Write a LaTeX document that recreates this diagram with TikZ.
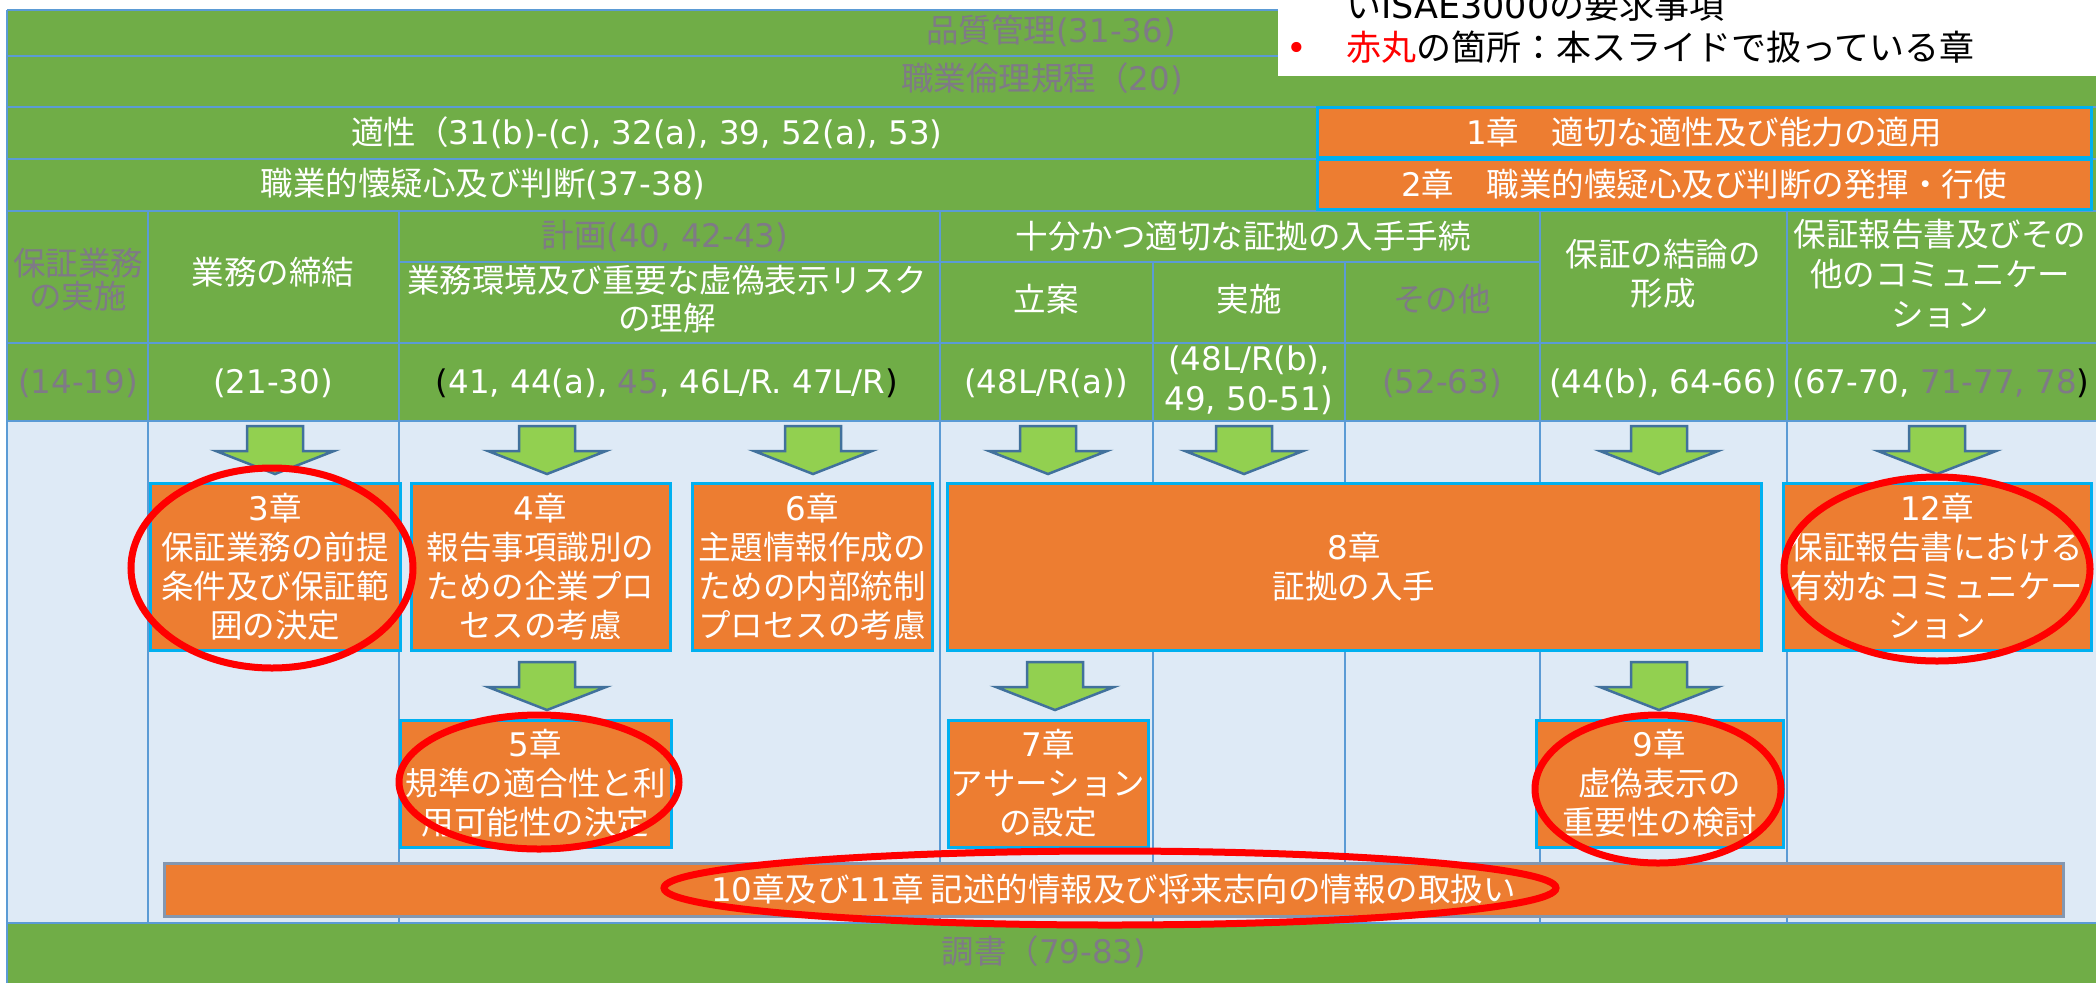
\documentclass[tikz,border=0pt]{standalone}
\usepackage{fontspec}
\setmainfont{Noto Sans CJK JP}
\newfontfamily\cjkfont{Noto Sans CJK JP}
\newfontfamily\latfont{DejaVu Sans}
\XeTeXinterchartokenstate=1
\newXeTeXintercharclass\cjkcls
\newcount\cccnt
\newcommand\setcjkrange[2]{\cccnt=#1\relax\loop\XeTeXcharclass\cccnt=\cjkcls\relax\ifnum\cccnt<#2 \advance\cccnt by 1 \repeat}
\setcjkrange{"3000}{"30FF}
\setcjkrange{"4E00}{"9FFF}
\setcjkrange{"FF00}{"FFEF}
\XeTeXinterchartoks 0 \cjkcls = {\cjkfont}
\XeTeXinterchartoks 4095 \cjkcls = {\cjkfont}
\XeTeXinterchartoks \cjkcls 0 = {\latfont}
\XeTeXinterchartoks 4095 0 = {\latfont}
\definecolor{grn}{HTML}{70AD47}
\definecolor{org}{HTML}{ED7D31}
\definecolor{lbl}{HTML}{DEEAF6}
\definecolor{gridc}{HTML}{5B9BD5}
\definecolor{gtxt}{HTML}{7F7A86}
\definecolor{arrfill}{HTML}{92D050}
\definecolor{arredge}{HTML}{41719C}
\definecolor{cyanb}{HTML}{00B0F0}
\definecolor{barb}{HTML}{8497B0}
\newcommand\myfs{\fontsize{32.5}{39}\selectfont}
\begin{document}
\begin{tikzpicture}[x=1pt,y=-1pt,
  gridline/.style={draw=gridc, line width=2pt},
  txt/.style={text=white, align=center, inner sep=0pt, font=\myfs},
  gtx/.style={txt, text=gtxt},
  chap/.style={draw=cyanb, fill=org, line width=3pt, text=white, align=center, inner sep=0pt, font=\myfs},
  barbox/.style={draw=barb, fill=org, line width=3pt, text=white, inner sep=0pt, font=\myfs},
  ring/.style={draw=red, line width=7pt},
  barrow/.style={fill=arrfill, draw=arredge, line width=2.5pt, line join=miter},
  blockarr/.pic={\path[barrow] (-28,0) -- (28,0) -- (28,25) -- (59,25) -- (0,48) -- (-59,25) -- (-28,25) -- cycle;}
]
\useasboundingbox (0,0) rectangle (2096,983);
\fill[white] (0,0) rectangle (2096,983);
\fill[grn] (7,10) rectangle (2096,421);
\fill[lbl] (7,421) rectangle (2096,923);
\fill[grn] (7,923) rectangle (2096,983);
% grid
\foreach \yy in {10,56,107,159,211,343,421,923} \draw[gridline] (7,\yy) -- (2096,\yy);
\draw[gridline] (399,262) -- (1540,262);
\foreach \xx in {148,399,940,1540,1787} \draw[gridline] (\xx,211) -- (\xx,923);
\foreach \xx in {1153,1345} \draw[gridline] (\xx,262) -- (\xx,923);
\draw[gridline] (7,10) -- (7,983);
% top rows
\node[gtx] (t1) at (1051,31) {品質管理(31-36)};
\node[gtx] (t2) at (1042,79) {職業倫理規程（20)};
\node[txt] (t3) at (647,133) {適性（31(b)-(c), 32(a), 39, 52(a), 53)};
\node[txt] (t4) at (483,184) {職業的懐疑心及び判断(37-38)};
\node[chap, minimum width=774, minimum height=50] (c1) at (1704,132) {1章　適切な適性及び能力の適用};
\node[chap, minimum width=774, minimum height=50] (c2) at (1704,184) {2章　職業的懐疑心及び判断の発揮・行使};
% header
\node[gtx, font={\fontsize{32.5}{33}\selectfont}] (h1) at (78,280) {保証業務\\の実施};
\node[txt] (h2) at (273,272) {業務の締結};
\node[gtx] (h3) at (665,236) {計画(40, 42-43)};
\node[txt, font={\fontsize{32.5}{38}\selectfont}] (h4) at (667,299) {業務環境及び重要な虚偽表示リスク\\の理解};
\node[txt] (h5) at (1243,236) {十分かつ適切な証拠の入手手続};
\node[txt] (h6) at (1046,299) {立案};
\node[txt] (h7) at (1249,299) {実施};
\node[gtx] (h8) at (1442,299) {その他};
\node[txt] (h9) at (1663,274) {保証の結論の\\形成};
\node[txt, font={\fontsize{32.5}{40}\selectfont}] (h10) at (1940,274) {保証報告書及びその\\他のコミュニケー\\ション};
% refs
\node[gtx] (r1) at (78,383) {(14-19)};
\node[txt] (r2) at (273,383) {(21-30)};
\node[txt] (r3) at (667,383) {\textcolor{black}{(}41, 44(a), \textcolor{gtxt}{45}, 46L/R. 47L/R\textcolor{black}{)}};
\node[txt] (r4) at (1046,383) {(48L/R(a))};
\node[txt, font={\fontsize{32.5}{40}\selectfont}] (r5) at (1249,380) {(48L/R(b),\\49, 50-51)};
\node[gtx] (r6) at (1442,383) {(52-63)};
\node[txt] (r7) at (1663,383) {(44(b), 64-66)};
\node[txt] (r8) at (1941,383) {(67-70, \textcolor{gtxt}{71-77, 78}\textcolor{black}{)}};
% bottom row
\node[gtx] (b1) at (1044,952) {調書（79-83)};
% arrows
\foreach \xx in {275,547,813,1048,1244,1659,1937} \pic at (\xx,426) {blockarr};
\foreach \xx in {547,1055,1659} \pic at (\xx,662) {blockarr};
% chapter boxes
\node[chap, minimum width=250, minimum height=167] (c3) at (275,566.5) {3章\\保証業務の前提\\条件及び保証範\\囲の決定};
\node[chap, minimum width=259, minimum height=167] (c4) at (540.5,566.5) {4章\\報告事項識別の\\ための企業プロ\\セスの考慮};
\node[chap, minimum width=240, minimum height=167] (c6) at (812,566.5) {6章\\主題情報作成の\\ための内部統制\\プロセスの考慮};
\node[chap, minimum width=814, minimum height=167] (c8) at (1354,566.5) {8章\\証拠の入手};
\node[chap, minimum width=308, minimum height=167] (c12) at (1937,566.5) {12章\\保証報告書における\\有効なコミュニケー\\ション};
\node[chap, minimum width=271, minimum height=127] (c5) at (535.5,783.5) {5章\\規準の適合性と利\\用可能性の決定};
\node[chap, minimum width=200, minimum height=127] (c7) at (1048,783.5) {7章\\アサーション\\の設定};
\node[chap, minimum width=247, minimum height=127] (c9) at (1659.5,783.5) {9章\\虚偽表示の\\重要性の検討};
\node[barbox, minimum width=1899, minimum height=53] (c10) at (1113.5,889.5) {10章及び11章 記述的情報及び将来志向の情報の取扱い};
% legend
\fill[white] (1278,-2) rectangle (2098,76);
\node[anchor=base west, inner sep=0pt, font={\fontsize{35}{40}\selectfont}] (l1) at (1346,18) {いISAE3000の要求事項};
\node[anchor=base west, inner sep=0pt, text=red, font={\fontsize{35}{40}\selectfont}] (lb) at (1286,60) {•};
\node[anchor=base west, inner sep=0pt, font={\fontsize{35}{40}\selectfont}] (l2) at (1346,60) {\textcolor{red}{赤丸}の箇所：本スライドで扱っている章};
% red rings
\draw[ring] (272,568) ellipse [x radius=141, y radius=100];
\draw[ring] (539,782) ellipse [x radius=140, y radius=67];
\draw[ring] (1937,569) ellipse [x radius=153, y radius=92];
\draw[ring] (1658,789) ellipse [x radius=123, y radius=74];
\draw[ring] (1110,888) ellipse [x radius=446, y radius=37];
\end{tikzpicture}
\end{document}
